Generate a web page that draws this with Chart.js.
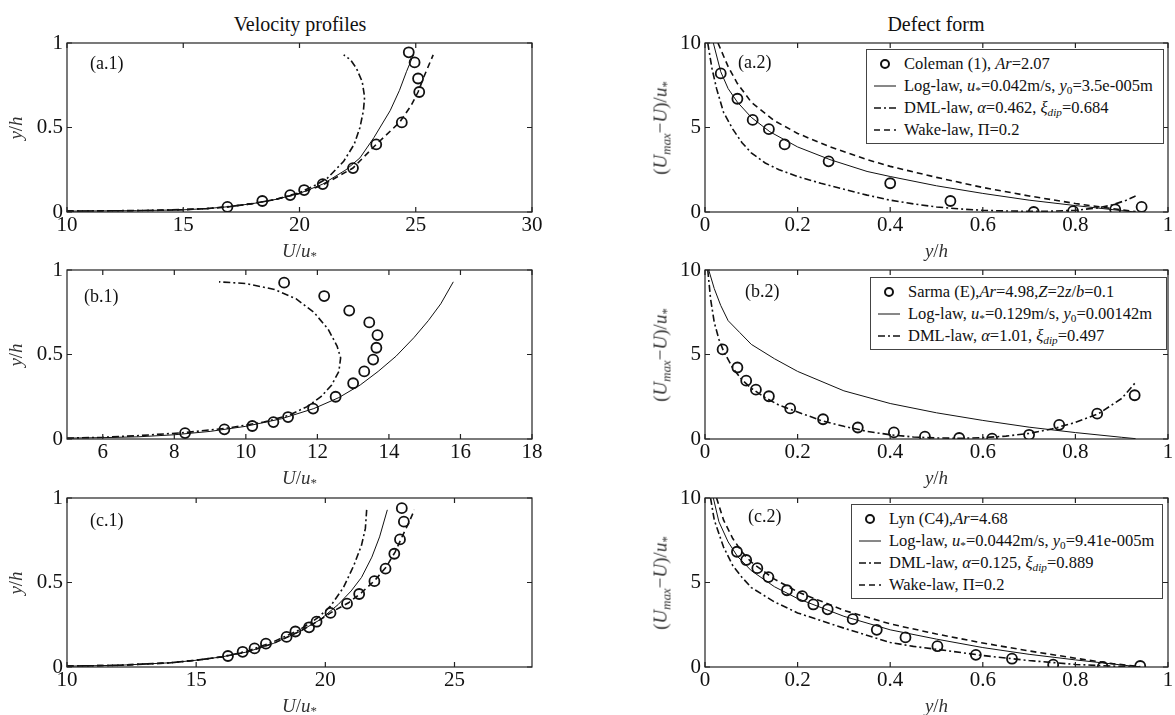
<!DOCTYPE html>
<html>
<head>
<meta charset="utf-8">
<script src="https://cdn.jsdelivr.net/npm/chart.js@4.4.1/dist/chart.umd.min.js"></script>
<style>
    body { margin: 0; background: #fff; width: 1175px; height: 715px; position: relative; overflow: hidden;
           font-family: "Liberation Serif", "Times New Roman", serif; color: #111; }
    canvas { position: absolute; }
    .txt { position: absolute; white-space: nowrap; line-height: 1; }
    .title { font-size: 20px; transform: translate(-50%, -50%); }
    .xlab { font-size: 19px; color: #333; transform: translate(-50%, -50%); }
    .ylab { font-size: 19px; color: #333; transform: translate(-50%, -50%) rotate(-90deg); }
    .plab { font-size: 18px; transform: translateY(-50%); }
    .legend { position: absolute; box-sizing: border-box; border: 1.5px solid #444; background: #fff;
              font-size: 16.5px; padding: 3px 0 2px 7px; }
    .legend .item { height: 22px; display: flex; align-items: center; gap: 8px; white-space: nowrap; }
    sub { font-size: 0.68em; vertical-align: -0.28em; line-height: 0; }
</style>
</head>
<body>
<div class="txt title" style="left:300px; top:24px">Velocity profiles</div>
<div class="txt title" style="left:936px; top:24px">Defect form</div>

<script>
// ---- tick labels ----
const ticksA1 = [10, 15, 20, 25, 30];
const ticksB1 = [6, 8, 10, 12, 14, 16, 18];
const ticksC1 = [10, 15, 20, 25];
const ticksProfileY = [0, 0.5, 1];
const ticksDefectX = [0, 0.2, 0.4, 0.6, 0.8, 1];
const ticksDefectY = [0, 5, 10];

// ---- (a.1) velocity profile, Coleman (1) ----
const a1MeasU = [16.9, 18.4, 19.6, 20.2, 21.0, 22.3, 23.3, 24.4, 24.7, 24.95, 25.1, 25.15];
const a1MeasY = [0.03, 0.065, 0.10, 0.13, 0.165, 0.26, 0.40, 0.53, 0.945, 0.885, 0.79, 0.71];
const a1LogU = [10, 13, 15, 16, 17, 18, 19, 20, 21, 22, 22.6, 23.2, 23.9, 24.3, 24.6, 24.9];
const a1LogY = [0.005, 0.008, 0.013, 0.02, 0.032, 0.05, 0.075, 0.11, 0.165, 0.25, 0.32, 0.44, 0.60, 0.72, 0.83, 0.93];
const a1DmlU = [10, 14, 16, 17, 18, 19, 20, 20.7, 21.2, 21.9, 22.35, 22.6, 22.75, 22.8, 22.7, 22.45, 22.2, 21.9];
const a1DmlY = [0.005, 0.01, 0.02, 0.032, 0.05, 0.075, 0.115, 0.16, 0.2, 0.3, 0.4, 0.5, 0.6, 0.68, 0.77, 0.85, 0.9, 0.93];
const a1WakeU = [10, 13, 15, 16, 17, 18, 19, 20, 21, 22.3, 23.3, 24.3, 24.8, 25.1, 25.35, 25.75];
const a1WakeY = [0.005, 0.008, 0.013, 0.02, 0.032, 0.05, 0.075, 0.11, 0.16, 0.26, 0.40, 0.53, 0.63, 0.71, 0.80, 0.93];

// ---- (a.2) defect form ----
const a2MeasX = [0.034, 0.07, 0.103, 0.138, 0.172, 0.267, 0.40, 0.53, 0.71, 0.795, 0.886, 0.943];
const a2MeasD = [8.2, 6.7, 5.45, 4.9, 4.0, 3.0, 1.7, 0.65, 0.0, 0.05, 0.15, 0.3];
const a2LogX = [0.018, 0.034, 0.05, 0.07, 0.1, 0.14, 0.2, 0.27, 0.35, 0.4, 0.5, 0.6, 0.7, 0.8, 0.9, 0.93];
const a2LogD = [10, 8.3, 7.3, 6.5, 5.6, 4.75, 3.85, 3.1, 2.4, 2.1, 1.55, 1.1, 0.7, 0.38, 0.08, 0.0];
const a2DmlX = [0.006, 0.015, 0.025, 0.04, 0.06, 0.08, 0.1, 0.13, 0.16, 0.2, 0.25, 0.3, 0.35, 0.4, 0.45, 0.5, 0.55, 0.6, 0.65, 0.7, 0.75, 0.8, 0.85, 0.88, 0.91, 0.93];
const a2DmlD = [10, 8.5, 7.3, 5.9, 4.9, 4.1, 3.5, 2.9, 2.5, 2.1, 1.7, 1.35, 1.0, 0.7, 0.48, 0.3, 0.18, 0.1, 0.06, 0.04, 0.05, 0.1, 0.25, 0.42, 0.7, 0.95];
const a2WakeX = [0.028, 0.05, 0.07, 0.1, 0.15, 0.2, 0.27, 0.35, 0.4, 0.5, 0.6, 0.7, 0.8, 0.88, 0.93];
const a2WakeD = [10, 8.6, 7.6, 6.5, 5.4, 4.65, 3.85, 3.1, 2.7, 2.05, 1.45, 0.95, 0.5, 0.2, 0.02];
const a2Labels = [
    'Coleman (1), <i>Ar</i>=2.07',
    'Log-law, <i>u</i><sub>*</sub>=0.042m/s, <i>y</i><sub>0</sub>=3.5e-005m',
    'DML-law, <i>α</i>=0.462, <i>ξ<sub>dip</sub></i>=0.684',
    'Wake-law, Π=0.2'
];

// ---- (b.1) velocity profile, Sarma (E) ----
const b1MeasU = [8.3, 9.4, 10.18, 10.77, 11.18, 11.88, 12.51, 13.0, 13.31, 13.56, 13.65, 13.68, 13.45, 12.89, 12.19, 11.07];
const b1MeasY = [0.035, 0.057, 0.077, 0.10, 0.13, 0.18, 0.25, 0.33, 0.40, 0.47, 0.54, 0.615, 0.69, 0.76, 0.846, 0.925];
const b1LogU = [5, 6, 7, 8, 9, 10, 11, 11.9, 12.6, 13.2, 13.7, 14.2, 14.7, 15.1, 15.45, 15.8];
const b1LogY = [0.005, 0.008, 0.013, 0.025, 0.045, 0.075, 0.12, 0.18, 0.245, 0.32, 0.4, 0.49, 0.6, 0.7, 0.8, 0.93];
const b1DmlU = [5, 6, 7, 8.3, 9.5, 10.5, 11.2, 11.7, 12.1, 12.4, 12.6, 12.65, 12.55, 12.3, 11.9, 11.4, 10.8, 10, 9.25];
const b1DmlY = [0.005, 0.01, 0.02, 0.038, 0.065, 0.1, 0.14, 0.19, 0.25, 0.32, 0.4, 0.48, 0.55, 0.65, 0.75, 0.83, 0.885, 0.92, 0.93];

// ---- (b.2) defect form ----
const b2MeasX = [0.038, 0.07, 0.089, 0.11, 0.138, 0.184, 0.255, 0.33, 0.408, 0.475, 0.549, 0.62, 0.70, 0.765, 0.847, 0.928];
const b2MeasD = [5.3, 4.23, 3.45, 2.92, 2.53, 1.81, 1.17, 0.68, 0.39, 0.14, 0.06, 0.02, 0.25, 0.84, 1.5, 2.59];
const b2LogX = [0.008, 0.02, 0.034, 0.05, 0.075, 0.1, 0.15, 0.2, 0.3, 0.4, 0.5, 0.6, 0.7, 0.8, 0.9, 0.93];
const b2LogD = [10, 8.9, 7.9, 7.0, 6.3, 5.6, 4.75, 4.0, 2.85, 2.1, 1.55, 1.1, 0.7, 0.38, 0.1, 0.02];
const b2DmlX = [0.006, 0.012, 0.02, 0.03, 0.04, 0.06, 0.08, 0.1, 0.13, 0.16, 0.2, 0.25, 0.3, 0.35, 0.4, 0.45, 0.5, 0.55, 0.6, 0.65, 0.7, 0.75, 0.8, 0.85, 0.9, 0.93];
const b2DmlD = [10, 8.3, 6.9, 5.9, 5.2, 4.2, 3.5, 3.0, 2.45, 2.0, 1.6, 1.1, 0.75, 0.45, 0.25, 0.12, 0.06, 0.04, 0.08, 0.17, 0.33, 0.6, 0.98, 1.5, 2.4, 3.35];
const b2Labels = [
    'Sarma (E),<i>Ar</i>=4.98,<i>Z</i>=2<i>z</i>/<i>b</i>=0.1',
    'Log-law, <i>u</i><sub>*</sub>=0.129m/s, <i>y</i><sub>0</sub>=0.00142m',
    'DML-law, <i>α</i>=1.01, <i>ξ<sub>dip</sub></i>=0.497'
];

// ---- (c.1) velocity profile, Lyn (C4) ----
const c1MeasU = [16.23, 16.8, 17.26, 17.7, 18.5, 18.84, 19.37, 19.66, 20.2, 20.84, 21.31, 21.9, 22.33, 22.67, 22.89, 23.04, 22.96];
const c1MeasY = [0.065, 0.09, 0.11, 0.138, 0.178, 0.21, 0.235, 0.268, 0.32, 0.375, 0.432, 0.508, 0.582, 0.67, 0.755, 0.86, 0.94];
const c1LogU = [10, 12, 14, 15, 16, 17, 18, 19, 19.8, 20.5, 21.0, 21.4, 21.8, 22.1, 22.4];
const c1LogY = [0.005, 0.01, 0.025, 0.04, 0.06, 0.09, 0.14, 0.21, 0.28, 0.37, 0.45, 0.53, 0.65, 0.77, 0.93];
const c1DmlU = [10, 12, 14, 15, 16, 17, 18, 19, 19.7, 20.2, 20.7, 21.1, 21.4, 21.55, 21.6];
const c1DmlY = [0.005, 0.01, 0.025, 0.04, 0.06, 0.095, 0.15, 0.22, 0.29, 0.36, 0.47, 0.6, 0.72, 0.82, 0.93];
const c1WakeU = [10, 12, 14, 15, 16, 17, 18, 19, 19.7, 20.3, 20.9, 21.4, 21.9, 22.35, 22.7, 23.0, 23.25, 23.45];
const c1WakeY = [0.005, 0.01, 0.025, 0.04, 0.06, 0.09, 0.14, 0.21, 0.27, 0.33, 0.38, 0.44, 0.51, 0.59, 0.68, 0.78, 0.86, 0.93];

// ---- (c.2) defect form ----
const c2MeasX = [0.069, 0.089, 0.113, 0.137, 0.177, 0.21, 0.234, 0.265, 0.319, 0.371, 0.433, 0.502, 0.585, 0.663, 0.752, 0.859, 0.94];
const c2MeasD = [6.82, 6.33, 5.85, 5.32, 4.54, 4.19, 3.7, 3.41, 2.83, 2.2, 1.75, 1.23, 0.72, 0.49, 0.14, 0.0, 0.06];
const c2LogX = [0.018, 0.03, 0.05, 0.07, 0.1, 0.15, 0.2, 0.3, 0.4, 0.5, 0.6, 0.7, 0.8, 0.9, 0.94];
const c2LogD = [10, 8.6, 7.4, 6.55, 5.7, 4.75, 4.05, 3.0, 2.2, 1.65, 1.15, 0.75, 0.42, 0.12, 0.0];
const c2DmlX = [0.012, 0.02, 0.04, 0.06, 0.08, 0.1, 0.15, 0.2, 0.3, 0.4, 0.45, 0.5, 0.6, 0.7, 0.8, 0.9, 0.94];
const c2DmlD = [10, 8.7, 7.1, 6.0, 5.3, 4.7, 3.85, 3.2, 2.3, 1.45, 1.22, 1.05, 0.68, 0.38, 0.15, 0.03, 0.0];
const c2WakeX = [0.025, 0.04, 0.06, 0.08, 0.1, 0.15, 0.2, 0.3, 0.4, 0.5, 0.6, 0.7, 0.8, 0.88, 0.94];
const c2WakeD = [10, 8.7, 7.6, 6.8, 6.2, 5.2, 4.45, 3.35, 2.55, 1.95, 1.42, 0.95, 0.52, 0.2, 0.02];
const c2Labels = [
    'Lyn (C4),<i>Ar</i>=4.68',
    'Log-law, <i>u</i><sub>*</sub>=0.0442m/s, <i>y</i><sub>0</sub>=9.41e-005m',
    'DML-law, <i>α</i>=0.125, <i>ξ<sub>dip</sub></i>=0.889',
    'Wake-law, Π=0.2'
];

const INK = '#111';

function series(xs, ys) {
    return xs.map((x, i) => ({ x: x, y: ys[i] }));
}

function measured(label, xs, ys) {
    return { label, data: series(xs, ys), showLine: false, pointStyle: 'circle', pointRadius: 5,
             pointBorderWidth: 1.8, pointBorderColor: INK, pointBackgroundColor: 'rgba(0,0,0,0)' };
}

function curve(label, xs, ys, width, dash) {
    return { label, data: series(xs, ys), showLine: true, pointRadius: 0, borderColor: INK,
             borderWidth: width, borderDash: dash, tension: 0 };
}

// Inward ticks on all four sides plus the box, like the MATLAB original
const boxTicks = {
    id: 'boxTicks',
    afterDatasetsDraw(chart) {
        const { ctx, chartArea: a, scales: { x, y } } = chart;
        ctx.save();
        ctx.strokeStyle = '#222';
        ctx.lineWidth = 1.2;
        ctx.strokeRect(a.left, a.top, a.right - a.left, a.bottom - a.top);
        ctx.beginPath();
        x.ticks.forEach(t => {
            const px = x.getPixelForValue(t.value);
            ctx.moveTo(px, a.bottom); ctx.lineTo(px, a.bottom - 5);
            ctx.moveTo(px, a.top); ctx.lineTo(px, a.top + 5);
        });
        y.ticks.forEach(t => {
            const py = y.getPixelForValue(t.value);
            ctx.moveTo(a.left, py); ctx.lineTo(a.left + 5, py);
            ctx.moveTo(a.right, py); ctx.lineTo(a.right - 5, py);
        });
        ctx.stroke();
        ctx.restore();
    }
};

function sampleSvg(ds) {
    if (!ds.showLine) {
        return `<svg width="22" height="12"><circle cx="11" cy="6" r="4" fill="none" stroke="${INK}" stroke-width="2"/></svg>`;
    }
    const dash = (ds.borderDash || []).join(' ');
    return `<svg width="22" height="12"><line x1="0" y1="6" x2="22" y2="6" stroke="${INK}" stroke-width="${ds.borderWidth}" stroke-dasharray="${dash}"/></svg>`;
}

// Legend built from the chart's datasets as HTML (needs italics and subscripts)
const htmlLegend = {
    id: 'htmlLegend',
    afterUpdate(chart, args, opts) {
        if (!opts.id) return;
        let box = document.getElementById(opts.id);
        if (!box) {
            box = document.createElement('div');
            box.id = opts.id;
            box.className = 'legend';
            document.body.appendChild(box);
        }
        box.style.left = opts.left + 'px';
        box.style.top = opts.top + 'px';
        box.style.width = opts.width + 'px';
        box.innerHTML = chart.data.datasets
            .map(ds => `<div class="item">${sampleSvg(ds)}<span>${ds.label}</span></div>`)
            .join('');
    }
};

const COLS = {
    left: { L: 67, R: 532, cx: 0, cw: 560, ylab: 15, ylabel: '<i>y</i>/<i>h</i>', xlabel: '<i>U</i>/<i>u</i><sub>*</sub>' },
    right: { L: 705, R: 1168, cx: 640, cw: 535, ylab: 660,
             ylabel: '(<i>U<sub>max</sub></i>−<i>U</i>)/<i>u</i><sub>*</sub>', xlabel: '<i>y</i>/<i>h</i>' }
};
const ROWS = { a: { T: 43, B: 212 }, b: { T: 270, B: 439 }, c: { T: 498, B: 667 } };

const panels = [
    { col: 'left', row: 'a', tag: '(a.1)', tagX: 90, tagY: 63, xMin: 10, xMax: 30, xTicks: ticksA1, yMax: 1, yTicks: ticksProfileY,
      datasets: [measured('meas', a1MeasU, a1MeasY), curve('log', a1LogU, a1LogY, 1, []),
                 curve('dml', a1DmlU, a1DmlY, 1.6, [7, 3, 2, 3]), curve('wake', a1WakeU, a1WakeY, 1.6, [6, 4])] },
    { col: 'right', row: 'a', tag: '(a.2)', tagX: 738, tagY: 62, xMin: 0, xMax: 1, xTicks: ticksDefectX, yMax: 10, yTicks: ticksDefectY,
      legend: { id: 'legA2', left: 866, top: 49, width: 298 },
      datasets: [measured(a2Labels[0], a2MeasX, a2MeasD), curve(a2Labels[1], a2LogX, a2LogD, 1, []),
                 curve(a2Labels[2], a2DmlX, a2DmlD, 1.6, [7, 3, 2, 3]), curve(a2Labels[3], a2WakeX, a2WakeD, 1.6, [6, 4])] },
    { col: 'left', row: 'b', tag: '(b.1)', tagX: 84, tagY: 296, xMin: 5, xMax: 18, xTicks: ticksB1, yMax: 1, yTicks: ticksProfileY,
      datasets: [measured('meas', b1MeasU, b1MeasY), curve('log', b1LogU, b1LogY, 1, []),
                 curve('dml', b1DmlU, b1DmlY, 1.6, [7, 3, 2, 3])] },
    { col: 'right', row: 'b', tag: '(b.2)', tagX: 745, tagY: 291, xMin: 0, xMax: 1, xTicks: ticksDefectX, yMax: 10, yTicks: ticksDefectY,
      legend: { id: 'legB2', left: 870, top: 277, width: 297 },
      datasets: [measured(b2Labels[0], b2MeasX, b2MeasD), curve(b2Labels[1], b2LogX, b2LogD, 1, []),
                 curve(b2Labels[2], b2DmlX, b2DmlD, 1.6, [7, 3, 2, 3])] },
    { col: 'left', row: 'c', tag: '(c.1)', tagX: 90, tagY: 520, xMin: 10, xMax: 28, xTicks: ticksC1, yMax: 1, yTicks: ticksProfileY,
      datasets: [measured('meas', c1MeasU, c1MeasY), curve('log', c1LogU, c1LogY, 1, []),
                 curve('dml', c1DmlU, c1DmlY, 1.6, [7, 3, 2, 3]), curve('wake', c1WakeU, c1WakeY, 1.6, [6, 4])] },
    { col: 'right', row: 'c', tag: '(c.2)', tagX: 748, tagY: 516, xMin: 0, xMax: 1, xTicks: ticksDefectX, yMax: 10, yTicks: ticksDefectY,
      legend: { id: 'legC2', left: 851, top: 504, width: 312 },
      datasets: [measured(c2Labels[0], c2MeasX, c2MeasD), curve(c2Labels[1], c2LogX, c2LogD, 1, []),
                 curve(c2Labels[2], c2DmlX, c2DmlD, 1.6, [7, 3, 2, 3]), curve(c2Labels[3], c2WakeX, c2WakeD, 1.6, [6, 4])] }
];

function addText(cls, html, left, top) {
    const el = document.createElement('div');
    el.className = 'txt ' + cls;
    el.style.left = left + 'px';
    el.style.top = top + 'px';
    el.innerHTML = html;
    document.body.appendChild(el);
}

const tickFont = { family: '"Liberation Serif", "Times New Roman", serif', size: 21 };

panels.forEach(p => {
    const col = COLS[p.col];
    const row = ROWS[p.row];
    const padTop = 20, axisH = 30;
    const canvas = document.createElement('canvas');
    canvas.width = col.cw;
    canvas.height = row.B - row.T + padTop + axisH;
    canvas.style.left = col.cx + 'px';
    canvas.style.top = (row.T - padTop) + 'px';
    document.body.appendChild(canvas);

    new Chart(canvas, {
        type: 'scatter',
        data: { datasets: p.datasets },
        options: {
            responsive: false,
            animation: false,
            devicePixelRatio: 1,
            events: [],
            layout: { padding: { top: padTop, right: col.cx + col.cw - col.R, left: 0, bottom: 0 } },
            plugins: {
                legend: { display: false },
                tooltip: { enabled: false },
                htmlLegend: p.legend || {}
            },
            scales: {
                x: {
                    type: 'linear', min: p.xMin, max: p.xMax,
                    grid: { display: false, drawTicks: false },
                    border: { display: false },
                    afterBuildTicks: s => { s.ticks = p.xTicks.map(v => ({ value: v })); },
                    afterFit: s => { s.height = axisH; s.paddingLeft = 0; s.paddingRight = 0; },
                    ticks: { color: INK, font: tickFont, padding: 1, maxRotation: 0, autoSkip: false,
                             callback: v => String(v) }
                },
                y: {
                    type: 'linear', min: 0, max: p.yMax,
                    grid: { display: false, drawTicks: false },
                    border: { display: false },
                    afterBuildTicks: s => { s.ticks = p.yTicks.map(v => ({ value: v })); },
                    afterFit: s => { s.width = col.L - col.cx; s.paddingTop = 0; s.paddingBottom = 0; },
                    ticks: { color: INK, font: tickFont, padding: 4, autoSkip: false, callback: v => String(v) }
                }
            }
        },
        plugins: [boxTicks, htmlLegend]
    });

    addText('plab', p.tag, p.tagX, p.tagY);
    addText('xlab', col.xlabel, (col.L + col.R) / 2, row.B + 38);
    addText('ylab', col.ylabel, col.ylab, (row.T + row.B) / 2);
});
</script>
</body>
</html>
